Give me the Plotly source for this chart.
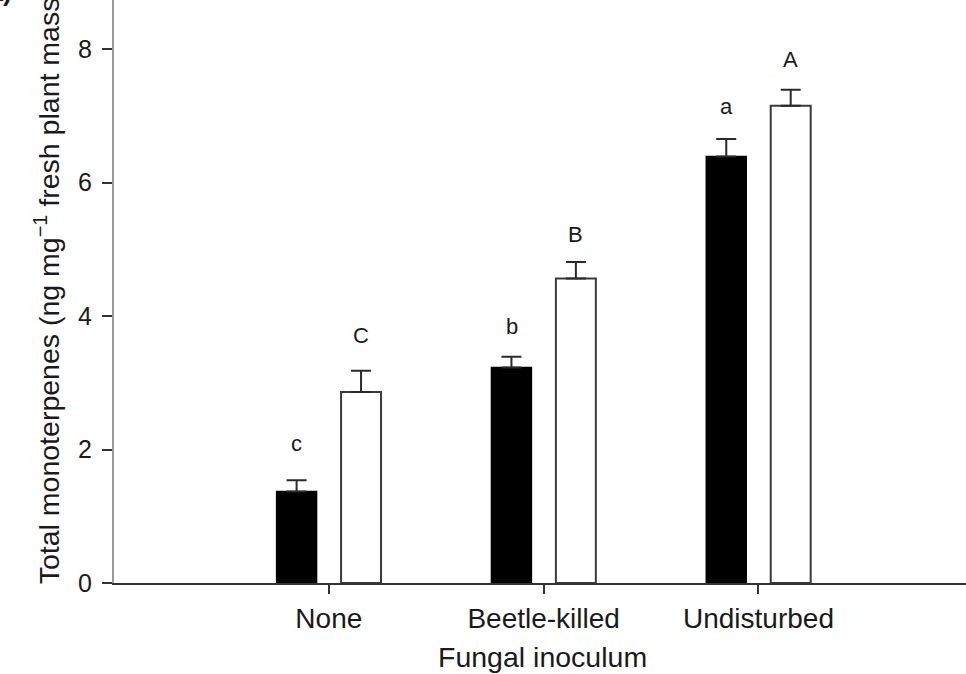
import plotly.graph_objects as go

# ---- data ----
categories = ["None", "Beetle-killed", "Undisturbed"]
black_means = [1.37, 3.23, 6.39]
black_se = [0.17, 0.16, 0.26]
white_means = [2.86, 4.56, 7.15]
white_se = [0.32, 0.25, 0.24]
black_letters = ["c", "b", "a"]
white_letters = ["C", "B", "A"]
y_ticks = [0, 2, 4, 6, 8]

FONT = "Liberation Sans, Arial, sans-serif"
INK = "#1a1a1a"

fig = go.Figure()
fig.add_trace(go.Bar(
    x=categories, y=black_means, name="black",
    marker=dict(color="black", line=dict(color="black", width=1.5)),
    error_y=dict(type="data", array=black_se, arrayminus=[0] * len(black_se),
                 symmetric=False, color="#2a2a2a", thickness=2, width=10),
))
fig.add_trace(go.Bar(
    x=categories, y=white_means, name="white",
    marker=dict(color="white", line=dict(color="#3a3a3a", width=2)),
    error_y=dict(type="data", array=white_se, arrayminus=[0] * len(white_se),
                 symmetric=False, color="#2a2a2a", thickness=2, width=10),
))

annotations = []
for cat, m, s, lab, ys in zip(categories, black_means, black_se, black_letters, [37, 30, 33]):
    annotations.append(dict(x=cat, y=m + s, text=lab, showarrow=False, xshift=-32,
                            yshift=ys, yanchor="middle",
                            font=dict(family=FONT, size=22, color=INK)))
for cat, m, s, lab, ys in zip(categories, white_means, white_se, white_letters, [35, 27, 30]):
    annotations.append(dict(x=cat, y=m + s, text=lab, showarrow=False, xshift=32,
                            yshift=ys, yanchor="middle",
                            font=dict(family=FONT, size=22, color=INK)))

# axis titles
annotations.append(dict(xref="paper", yref="paper", x=0.5035, y=-0.127,
                        text="Fungal inoculum", showarrow=False,
                        xanchor="center", yanchor="middle",
                        font=dict(family=FONT, size=28.5, color=INK)))
annotations.append(dict(xref="paper", yref="paper", x=-0.0786, y=0.509,
                        text="Total monoterpenes (ng mg<sup>\u22121</sup> fresh plant mass)",
                        textangle=-90, showarrow=False,
                        xanchor="center", yanchor="middle",
                        font=dict(family=FONT, size=28.5, color=INK)))
# panel label (mostly cut at the top of the picture, as in the reference)
annotations.append(dict(xref="paper", yref="paper", x=-0.117, y=(583 - 9) / 583,
                        text="<b>(a)</b>", showarrow=False,
                        xanchor="right", yanchor="bottom",
                        font=dict(family=FONT, size=26, color=INK)))

fig.update_layout(
    width=966, height=674,
    margin=dict(l=114, r=0, t=0, b=91, pad=0),
    paper_bgcolor="white", plot_bgcolor="white",
    barmode="group", bargap=0.4, bargroupgap=0.38,
    showlegend=False,
    annotations=annotations,
    font=dict(family=FONT, color=INK),
)
fig.update_xaxes(
    type="category", range=[-1, 2.966],
    showline=True, linecolor="#333333", linewidth=2,
    ticks="outside", ticklen=9, tickwidth=1.5, tickcolor="#333333",
    tickfont=dict(family=FONT, size=28, color=INK),
    showgrid=False, zeroline=False,
)
fig.update_yaxes(
    range=[0, 8.734], tickvals=y_ticks,
    showline=True, linecolor="#999999", linewidth=2,
    ticks="outside", ticklen=10, tickwidth=1.5, tickcolor="#333333",
    tickfont=dict(family=FONT, size=25, color=INK),
    ticklabelstandoff=5,
    showgrid=False, zeroline=False,
)

fig.write_html("out.html")
